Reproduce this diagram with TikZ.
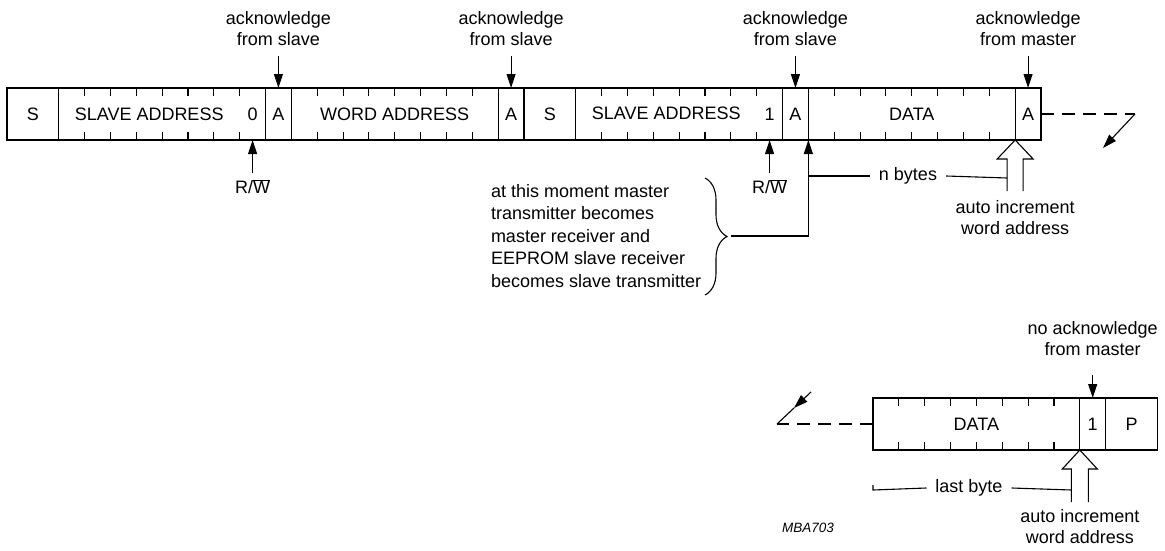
\documentclass[tikz,border=0pt]{standalone}
\usepackage{fontspec}
\setmainfont{Liberation Sans}
\usetikzlibrary{arrows.meta,decorations.pathreplacing,calc}
\newcommand\bitw{25.85}
\begin{document}
\begin{tikzpicture}[x=1pt,y=-1pt,line width=1.1pt,
  every node/.style={font=\fontsize{18}{21}\selectfont,inner sep=0pt,outer sep=0pt},
  field/.style={draw,minimum height=52pt,anchor=west},
  lbl/.style={align=center},
  ptr/.style={-{Triangle[length=14pt,width=9pt]}},
  dsh/.style={dash pattern=on 13pt off 8pt},
  gapped/.style={inner xsep=9pt},
]
\useasboundingbox (0,0) rectangle (1165,550);
% ---------- top frame ----------
\node[field,minimum width=2*\bitw pt] (S1) at (7,114) {S};
\node[field,minimum width=8*\bitw pt] (SA1) at (S1.east) {};
\node[field,minimum width=\bitw pt] (A1) at (SA1.east) {A};
\node[field,minimum width=8*\bitw pt] (WA) at (A1.east) {WORD ADDRESS};
\node[field,minimum width=\bitw pt] (A2) at (WA.east) {A};
\node[field,minimum width=2*\bitw pt] (S2) at (A2.east) {S};
\node[field,minimum width=8*\bitw pt] (SA2) at (S2.east) {};
\node[field,minimum width=\bitw pt] (A3) at (SA2.east) {A};
\node[field,minimum width=8*\bitw pt] (DA) at (A3.east) {DATA};
\node[field,minimum width=\bitw pt] (A4) at (DA.east) {A};
\node (t1) at ([xshift=3.5*\bitw pt]SA1.west) {SLAVE ADDRESS};
\node (b0) at ([xshift=7.5*\bitw pt]SA1.west) {0};
\node (t2) at ([xshift=3.5*\bitw pt,yshift=1pt]SA2.west) {SLAVE ADDRESS};
\node (b1) at ([xshift=7.5*\bitw pt]SA2.west) {1};
% ---------- bottom frame ----------
\node[field,minimum width=8*\bitw pt] (DB) at (873,424) {DATA};
\node[field,minimum width=\bitw pt] (B1) at (DB.east) {1};
\node[field,minimum width=2*\bitw pt] (P) at (B1.east) {P};
% ticks
\foreach \f in {SA1,WA,SA2,DA,DB}{
  \foreach \i in {1,...,7}{
    \draw ([xshift=\i*\bitw pt]\f.north west) -- ++(0,8);
    \draw ([xshift=\i*\bitw pt]\f.south west) -- ++(0,-8);
  }
}
% ---------- acknowledge labels ----------
\foreach \a/\n/\t in {A1/k1/from slave,A2/k2/from slave,A3/k3/from slave,A4/k4/from master}{
  \node[lbl,anchor=south] (\n) at ([yshift=42.5pt]\a.north) {acknowledge\\\t};
  \draw[ptr] ([yshift=32pt]\a.north) -- (\a.north);
}
\node[lbl,anchor=south] (nk) at ([yshift=42pt]B1.north) {no acknowledge\\from master};
\draw[ptr] ([yshift=23pt]B1.north) -- (B1.north);
% ---------- R/W ----------
\node[anchor=south] (rw1) at ($(b0.center |- SA1.south)+(0,54)$) {R/$\overline{\hbox{W}}$};
\node[anchor=south] (rw2) at ($(b1.center |- SA2.south)+(0,54)$) {R/$\overline{\hbox{W}}$};
\draw[ptr] ($(rw1.north)+(0,-6)$) -- (rw1.north |- SA1.south);
\draw[ptr] ($(rw2.north)+(0,-6)$) -- (rw2.north |- SA2.south);
% ---------- brace and note ----------
\draw[decorate,decoration={brace,amplitude=22pt,aspect=0.5}] (705,178) -- (705,295);
\coordinate (brtip) at (731,236);
\node[anchor=west,align=left,font=\fontsize{18}{22.5}\selectfont] (note) at (491,236)
  {at this moment master\\transmitter becomes\\master receiver and\\EEPROM slave receiver\\becomes slave transmitter};
\draw[ptr] (brtip) -- (brtip -| DA.south west) -- (DA.south west);
% ---------- n bytes and hollow arrow (top) ----------
\coordinate (tipT) at (DA.south east);
\draw[line join=miter] ($(tipT)+(-8,51)$) -- ++(0,-32) -- ++(-10,0) -- (tipT)
   -- ++(18,19) -- ++(-10,0) -- ++(0,32);
\node[anchor=mid,gapped] (nb) at (908,178) {n bytes};
\draw (DA.south west |- nb.west) -- (nb.west);
\draw (nb.east) -- ($(tipT)+(-8,38)$);
\node[lbl,anchor=north] (ai1) at ($(tipT)+(0,60)$) {auto increment\\word address};
% ---------- hollow arrow (bottom) ----------
\coordinate (tipB) at (B1.south west);
\draw[line join=miter] ($(tipB)+(-8.5,52)$) -- ++(0,-33) -- ++(-9,0) -- (tipB)
   -- ++(17.5,19) -- ++(-9,0) -- ++(0,33);
\node[anchor=mid,gapped] (lb) at (969,490) {last byte};
\draw (873,485) -- (873,490) -- (lb.west);
\draw (lb.east) -- ($(tipB)+(-8.5,40)$);
\node[lbl,anchor=north] (ai2) at ($(tipB)+(0,59)$) {auto increment\\word address};
% ---------- continuation marks ----------
\coordinate (c1) at (1135,114);
\coordinate (c2) at (1103,148);
\draw[dsh] (A4.east) -- (c1);
\draw[ptr] (c1) -- (c2);
\coordinate (d1) at (777,424);
\coordinate (d2) at (811,392);
\coordinate (dm) at (794,408);
\draw[dsh] (DB.west) -- (d1);
\draw[ptr] (d2) -- (dm);
\draw (dm) -- (d1);
% ---------- id ----------
\node[font=\fontsize{13.5}{16}\selectfont\itshape] (id) at (808,528) {MBA703};
\end{tikzpicture}
\end{document}
